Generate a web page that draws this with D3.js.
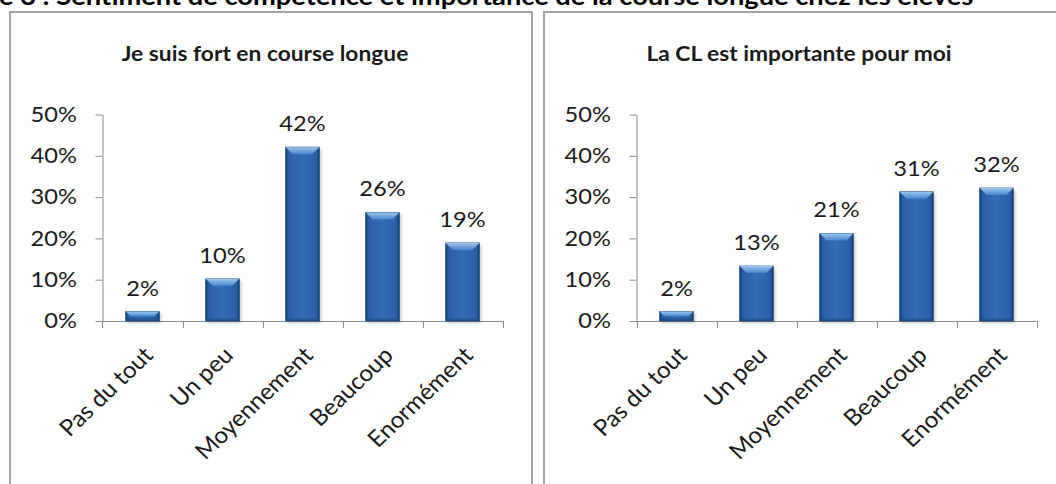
<!DOCTYPE html>
<html>
<head>
<meta charset="utf-8">
<script src="https://cdn.jsdelivr.net/npm/d3@7"></script>
<style>
body { margin: 0; background: #fff; overflow: hidden; }
text { font-family: Lato, "Open Sans", sans-serif; fill: #1a1a1a; }
</style>
</head>
<body>
<div id="chart"></div>
<script>
var categories = ["Pas du tout", "Un peu", "Moyennement", "Beaucoup", "Enormément"]
var fortValues = [0.023, 0.102, 0.421, 0.263, 0.189]
var importValues = [0.023, 0.133, 0.212, 0.313, 0.322]
var yTicks = [0, 0.1, 0.2, 0.3, 0.4, 0.5]
var titles = ["Je suis fort en course longue", "La CL est importante pour moi"]
var headerText = "e 3 : Sentiment de compétence et importance de la course longue chez les élèves"

var W = 1056,
    H = 484,
    SX = 1.1,   // the picture is stretched sideways a little, so is the text
    axisY = 321,
    topY = 114.5,
    fs = "21.5px"

var svg = d3.select("#chart")
    .append("svg")
    .attr("width", W)
    .attr("height", H)

var defs = svg.append("defs")

var body = defs.append("linearGradient").attr("id", "barBody")
body.append("stop").attr("offset", "0%").attr("stop-color", "#173d6e")
body.append("stop").attr("offset", "10%").attr("stop-color", "#2b60a9")
body.append("stop").attr("offset", "50%").attr("stop-color", "#356cb6")
body.append("stop").attr("offset", "90%").attr("stop-color", "#2b60a9")
body.append("stop").attr("offset", "100%").attr("stop-color", "#173d6e")

var bevel = defs.append("linearGradient").attr("id", "barTop")
    .attr("x1", 0).attr("y1", 0).attr("x2", 0).attr("y2", 1)
bevel.append("stop").attr("offset", "0%").attr("stop-color", "#9cc6ef")
bevel.append("stop").attr("offset", "100%").attr("stop-color", "#4a86cc")

var blur = defs.append("filter").attr("id", "shadow")
    .attr("x", "-20%").attr("y", "-20%").attr("width", "140%").attr("height", "140%")
blur.append("feGaussianBlur").attr("stdDeviation", 1.6)

// panel frames
svg.append("rect").attr("x", 10).attr("y", 12).attr("width", 522).attr("height", 520)
    .attr("fill", "none").attr("stroke", "#a3a3a3").attr("stroke-width", 2)
svg.append("rect").attr("x", 544).attr("y", 12).attr("width", 522).attr("height", 520)
    .attr("fill", "none").attr("stroke", "#a3a3a3").attr("stroke-width", 2)

// header, cut at the top of the picture
svg.append("text")
    .attr("transform", "translate(-1,5) scale(" + SX + ",1)")
    .style("font-weight", "bold")
    .style("font-size", "24.8px")
    .style("fill", "#000")
    .text(headerText)

var y = d3.scaleLinear().domain([0, 0.5]).range([axisY, topY])

function drawPanel(px, title, values) {
    var x = d3.scaleBand()
        .domain(categories)
        .range([px + 92.5, px + 492.5])
        .paddingInner(0.58)
        .paddingOuter(0.29)
    var bw = x.bandwidth()
    var step = x.step()
    var g = svg.append("g")

    g.append("text")
        .attr("transform", "translate(" + (px + 255) + ",61) scale(" + SX + ",1)")
        .attr("text-anchor", "middle")
        .style("font-weight", "bold")
        .style("font-size", "20.7px")
        .text(title)

    // y axis
    var ya = g.append("g")
        .attr("transform", "translate(" + (px + 92.5) + ",0)")
        .call(d3.axisLeft(y).tickValues(yTicks).tickFormat(d3.format(".0%")).tickSize(7).tickSizeOuter(0))
    ya.select(".domain").attr("stroke", "#8a8a8a")
    ya.selectAll(".tick line").attr("stroke", "#8a8a8a")
    ya.selectAll(".tick text")
        .attr("x", -25.5 / SX)
        .attr("transform", "scale(" + SX + ",1)")
        .style("font-size", fs)
        .style("font-family", "Lato, 'Open Sans', sans-serif")
        .attr("fill", "#1a1a1a")

    // x axis line and ticks between the categories
    var edges = categories.map(function (c) { return x(c) - step * x.paddingInner() / 2 })
    edges.push(px + 492.5)
    g.append("line")
        .attr("x1", px + 92.5).attr("x2", px + 492.5)
        .attr("y1", axisY + 0.5).attr("y2", axisY + 0.5)
        .attr("stroke", "#8a8a8a")
    g.selectAll(".xt").data(edges).enter().append("line")
        .attr("x1", function (d) { return Math.round(d) + 0.5 })
        .attr("x2", function (d) { return Math.round(d) + 0.5 })
        .attr("y1", axisY).attr("y2", axisY + 7)
        .attr("stroke", "#8a8a8a")

    var bars = g.selectAll(".bar").data(values).enter().append("g")

    bars.append("rect")
        .attr("x", function (d, i) { return x(categories[i]) + 2 })
        .attr("y", function (d) { return y(d) + 2 })
        .attr("width", bw)
        .attr("height", function (d) { return axisY - y(d) })
        .attr("fill", "#000")
        .attr("opacity", 0.22)
        .attr("filter", "url(#shadow)")

    bars.append("rect")
        .attr("x", function (d, i) { return x(categories[i]) })
        .attr("y", function (d) { return y(d) })
        .attr("width", bw)
        .attr("height", function (d) { return axisY - y(d) })
        .attr("fill", "url(#barBody)")
        .attr("stroke", "#1d4a82")
        .attr("stroke-width", 0.8)

    bars.append("path")
        .attr("d", function (d, i) {
            var x0 = x(categories[i]), y0 = y(d)
            var h = Math.min(7, (axisY - y0) / 2)
            return "M" + x0 + "," + y0 + "L" + (x0 + bw) + "," + y0 +
                "L" + (x0 + bw - h) + "," + (y0 + h) + "L" + (x0 + h) + "," + (y0 + h) + "Z"
        })
        .attr("fill", "url(#barTop)")

    bars.append("rect")
        .attr("x", function (d, i) { return x(categories[i]) + 1 })
        .attr("y", axisY - 3)
        .attr("width", bw - 2)
        .attr("height", 3)
        .attr("fill", "#173d6e")
        .attr("opacity", 0.35)

    bars.append("text")
        .attr("transform", function (d, i) {
            return "translate(" + (x(categories[i]) + bw / 2) + "," + (y(d) - 16) + ") scale(" + SX + ",1)"
        })
        .attr("text-anchor", "middle")
        .style("font-size", fs)
        .text(function (d) { return d3.format(".0%")(d) })

    g.selectAll(".cat").data(categories).enter().append("text")
        .attr("transform", function (d) {
            return "translate(" + (x(d) + bw / 2 + 6) + "," + (axisY + 30) + ") scale(1.05,1) rotate(-45)"
        })
        .attr("text-anchor", "end")
        .attr("dy", "0.35em")
        .style("font-size", "23px")
        .text(function (d) { return d })
}

drawPanel(10, titles[0], fortValues)
drawPanel(544, titles[1], importValues)
</script>
</body>
</html>
